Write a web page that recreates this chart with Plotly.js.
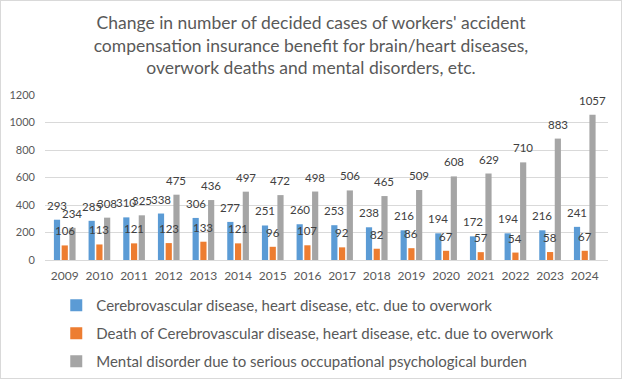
<!DOCTYPE html>
<html><head><meta charset="utf-8">
<script src="https://cdn.plot.ly/plotly-3.0.1.min.js"></script>
<style>
html,body{margin:0;padding:0;background:#fff;}
#wrap{position:relative;width:622px;height:379px;}
#wrap::after{content:"";position:absolute;left:0;top:0;width:620px;height:377px;border:1px solid #d9d9d9;pointer-events:none;}
</style></head>
<body><div id="wrap"><div id="chart" style="width:622px;height:379px;"></div></div>
<script>
const years = ['2009','2010','2011','2012','2013','2014','2015','2016','2017','2018','2019','2020','2021','2022','2023','2024'];
const cerebro = [293,285,310,338,306,277,251,260,253,238,216,194,172,194,216,241];
const deaths = [106,113,121,123,133,121,96,107,92,82,86,67,57,54,58,67];
const mental = [234,308,325,475,436,497,472,498,506,465,509,608,629,710,883,1057];
const names = ['Cerebrovascular disease, heart disease, etc. due to overwork',
  'Death of Cerebrovascular disease, heart disease, etc. due to overwork',
  'Mental disorder due to serious occupational psychological burden'];
const colors = ['#5B9BD5','#ED7D31','#A5A5A5'];
const FONT = 'Lato, "Open Sans", sans-serif';
const TXT = '#595959';
const series = [cerebro, deaths, mental];
const BARGAP = 0.33;
const slot = (1 - BARGAP) / series.length;
const data = series.map((vals,i)=>({
  type:'bar', x:years, y:vals, name:names[i], legendgroup:'g'+i,
  marker:{color:colors[i]}, hoverinfo:'x+y'
}));
const annotations = [];
series.forEach((vals,i)=>{
  vals.forEach((v,j)=>{
    annotations.push({xref:'x', yref:'y', x:j + (i - (series.length-1)/2)*slot, y:v,
      text:String(v), showarrow:false, yanchor:'bottom', xanchor:'center', yshift:6,
      font:{family:FONT,size:11.5,color:'#404040'}});
  });
});
const layout = {
  width:622, height:379,
  margin:{l:45,r:14,t:95,b:119,autoexpand:false},
  paper_bgcolor:'#fff', plot_bgcolor:'#fff',
  font:{family:FONT,color:TXT},
  title:{text:"Change in number of decided cases of workers' accident<br>compensation insurance benefit for brain/heart diseases,<br>overwork deaths and mental disorders, etc.",
    font:{family:FONT,size:17.5,color:TXT}, x:0.5, xanchor:'center', y:0.924, yanchor:'top'},
  barmode:'group', bargap:BARGAP, bargroupgap:0.2,
  xaxis:{type:'category', tickfont:{family:FONT,size:12,color:TXT}, showline:true, linecolor:'#d9d9d9', ticks:'', showgrid:false, ticklabelstandoff:5},
  yaxis:{range:[0,1200], dtick:200, tickfont:{family:FONT,size:11,color:TXT}, gridcolor:'#d9d9d9', zeroline:false, showline:false, ticks:'', ticklabelstandoff:9},
  annotations:annotations,
  showlegend:true,
  legend:{orientation:'v', x:0.02, xanchor:'left', y:-0.175, yanchor:'top', font:{family:FONT,size:15,color:TXT}, tracegroupgap:5.5, bgcolor:'rgba(0,0,0,0)'}
};
Plotly.newPlot('chart', data, layout, {displayModeBar:false, responsive:false});
</script></body></html>
